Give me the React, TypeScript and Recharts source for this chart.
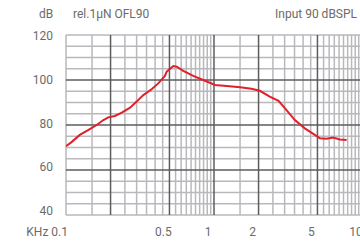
import { LineChart, Line, XAxis, YAxis, ReferenceLine } from "recharts";

const freqs = [0.1, 0.109, 0.124, 0.142, 0.161, 0.179, 0.193, 0.214, 0.238, 0.271, 0.3, 0.333, 0.379, 0.42, 0.466, 0.479, 0.531, 0.56, 0.62, 0.724, 0.845, 1.016, 1.22, 1.5, 1.79, 2.04, 2.38, 2.73, 3.02, 3.52, 4.11, 4.8, 5.2, 5.76, 6.39, 7.08, 7.87];
const levels = [70.6, 72.4, 75.6, 77.8, 80, 82.2, 83.4, 84, 85.5, 87.7, 90.4, 93.3, 95.9, 98.5, 101.8, 103.7, 106.2, 105.9, 104.1, 101.8, 100, 97.8, 97.3, 96.8, 96.1, 95.2, 92.6, 90.7, 87.4, 82.2, 78.5, 75.6, 74.1, 73.9, 74.4, 73.6, 73.3];

const xTicks = [0.1, 0.2, 0.5, 1, 2, 5, 10];
const yTicks = [40, 60, 80, 100, 120];
const majorX = [0.2, 0.5, 1, 2, 5, 10];
const minorX = [0.1, 0.15, 0.25, 0.3, 0.35, 0.4, 0.45, 0.55, 0.6, 0.65, 0.7, 0.75, 0.8, 0.85, 0.9, 0.95, 1.5, 2.5, 3, 3.5, 4, 4.5, 5.5, 6, 6.5, 7, 7.5, 8, 8.5, 9, 9.5];
const majorY = [60, 80, 100];
const minorY = [40, 45, 50, 55, 65, 70, 75, 85, 90, 95, 105, 110, 115, 120];

const data = freqs.map((f, i) => ({ f, db: levels[i] }));

const font = "Roboto, sans-serif";
const textColor = "#6b6b6b";
const minorColor = "#b9b9bd";
const majorColor = "#5c5c5c";

const YTick = ({ y, payload }: any) => (
    <text x={53} y={y + 5 - ((120 - payload.value) / 80) * 5} textAnchor="end" fill={textColor} fontSize={12} fontFamily={font}>
        {payload.value}
    </text>
);

const XTick = ({ x, payload }: any) => {
    if (payload.value === 0.1) {
        return (
            <text x={x + 2} y={236} textAnchor="end" fill={textColor} fontSize={12} fontFamily={font}>
                KHz 0.1
            </text>
        );
    }
    if (payload.value === 0.2) return null;
    return (
        <text x={x - 6} y={236} textAnchor="middle" fill={textColor} fontSize={12} fontFamily={font}>
            {payload.value}
        </text>
    );
};

export default function App() {
    return (
        <div style={{ position: "relative", width: 360, height: 241, overflow: "hidden", background: "#fff" }}>
            <style>{`body{margin:0}`}</style>
            <div style={{ position: "absolute", top: 7, left: 39, fontSize: 12, fontFamily: font, color: textColor }}>dB</div>
            <div style={{ position: "absolute", top: 7, left: 73, fontSize: 12, fontFamily: font, color: textColor }}>rel.1μN OFL90</div>
            <div style={{ position: "absolute", top: 7, left: 275, fontSize: 12, fontFamily: font, color: textColor, whiteSpace: "nowrap" }}>Input 90 dBSPL</div>
            <LineChart width={380} height={241} data={data} margin={{ top: 35, right: 18, bottom: 0, left: 0 }}>
                <XAxis
                    dataKey="f"
                    type="number"
                    scale="log"
                    domain={[0.1, 10]}
                    ticks={xTicks}
                    tick={<XTick />}
                    tickLine={false}
                    axisLine={false}
                    height={26}
                    allowDataOverflow
                />
                <YAxis
                    type="number"
                    domain={[40, 120]}
                    ticks={yTicks}
                    tick={<YTick />}
                    tickLine={false}
                    axisLine={false}
                    width={66}
                />
                {minorY.map((v) => (
                    <ReferenceLine key={`my${v}`} y={v} stroke={minorColor} strokeWidth={1.5} />
                ))}
                {minorX.map((v) => (
                    <ReferenceLine key={`mx${v}`} x={v} stroke={minorColor} strokeWidth={1.5} />
                ))}
                {majorY.map((v) => (
                    <ReferenceLine key={`My${v}`} y={v} stroke={majorColor} strokeWidth={1.5} />
                ))}
                {majorX.map((v) => (
                    <ReferenceLine key={`Mx${v}`} x={v} stroke={majorColor} strokeWidth={1.5} />
                ))}
                <Line type="linear" dataKey="db" stroke="#e0202a" strokeWidth={2} dot={false} isAnimationActive={false} />
            </LineChart>
        </div>
    );
}
